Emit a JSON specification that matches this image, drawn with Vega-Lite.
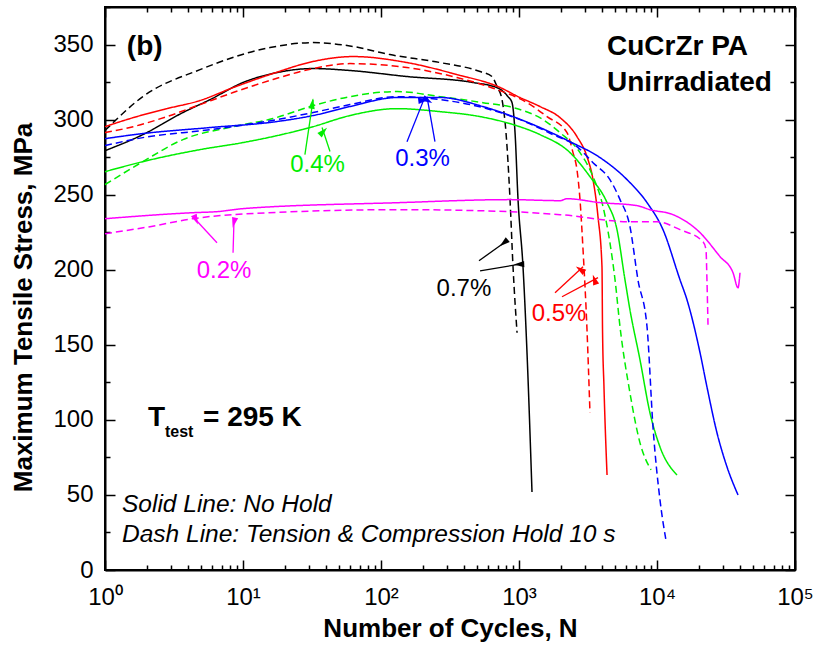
{
  "$schema": "https://vega.github.io/schema/vega-lite/v6.json",
  "width": 690,
  "height": 563,
  "autosize": {"type": "none"},
  "padding": {"left": 105, "top": 7, "right": 22, "bottom": 78},
  "config": {
    "font": "Liberation Sans",
    "view": {"stroke": "black", "strokeWidth": 2},
    "axis": {"grid": false, "domainColor": "black", "domainWidth": 2, "tickColor": "black", "tickWidth": 1.5, "labelColor": "black", "titleColor": "black", "labelFontSize": 24, "titleFontSize": 26, "titleFontWeight": "bold"}
  },
  "datasets": {
    "curves": [
      {"strain":"0.7%","hold":"Hold","N":1,"S":292.7},{"strain":"0.7%","hold":"Hold","N":1.88,"S":315.3},{"strain":"0.7%","hold":"Hold","N":4.88,"S":333.3},{"strain":"0.7%","hold":"Hold","N":15.7,"S":348},{"strain":"0.7%","hold":"Hold","N":32.2,"S":351.3},{"strain":"0.7%","hold":"Hold","N":62.7,"S":348.7},{"strain":"0.7%","hold":"Hold","N":116,"S":343.3},{"strain":"0.7%","hold":"Hold","N":268,"S":338},{"strain":"0.7%","hold":"Hold","N":522,"S":332},{"strain":"0.7%","hold":"Hold","N":637,"S":328.7},{"strain":"0.7%","hold":"Hold","N":693,"S":322},{"strain":"0.7%","hold":"Hold","N":753,"S":313.3},{"strain":"0.7%","hold":"Hold","N":805,"S":291.3},{"strain":"0.7%","hold":"Hold","N":861,"S":246.7},{"strain":"0.7%","hold":"Hold","N":905,"S":202},{"strain":"0.7%","hold":"Hold","N":968,"S":158},
      {"strain":"0.7%","hold":"No Hold","N":1,"S":279.3},{"strain":"0.7%","hold":"No Hold","N":1.88,"S":290},{"strain":"0.7%","hold":"No Hold","N":3.67,"S":304.7},{"strain":"0.7%","hold":"No Hold","N":5.77,"S":313.3},{"strain":"0.7%","hold":"No Hold","N":10,"S":324.7},{"strain":"0.7%","hold":"No Hold","N":17.6,"S":331.3},{"strain":"0.7%","hold":"No Hold","N":32.2,"S":334},{"strain":"0.7%","hold":"No Hold","N":59.6,"S":332.7},{"strain":"0.7%","hold":"No Hold","N":154,"S":328.7},{"strain":"0.7%","hold":"No Hold","N":464,"S":324.7},{"strain":"0.7%","hold":"No Hold","N":693,"S":321.3},{"strain":"0.7%","hold":"No Hold","N":832,"S":315.3},{"strain":"0.7%","hold":"No Hold","N":890,"S":311.3},{"strain":"0.7%","hold":"No Hold","N":936,"S":291.3},{"strain":"0.7%","hold":"No Hold","N":984,"S":246.7},{"strain":"0.7%","hold":"No Hold","N":1069,"S":202},{"strain":"0.7%","hold":"No Hold","N":1143,"S":144.7},{"strain":"0.7%","hold":"No Hold","N":1242,"S":52},
      {"strain":"0.5%","hold":"No Hold","N":1,"S":295.3},{"strain":"0.5%","hold":"No Hold","N":1.6,"S":301.3},{"strain":"0.5%","hold":"No Hold","N":2.81,"S":307.3},{"strain":"0.5%","hold":"No Hold","N":4.88,"S":312.7},{"strain":"0.5%","hold":"No Hold","N":8.47,"S":321.3},{"strain":"0.5%","hold":"No Hold","N":16.5,"S":330.7},{"strain":"0.5%","hold":"No Hold","N":32.2,"S":338.7},{"strain":"0.5%","hold":"No Hold","N":62.7,"S":342},{"strain":"0.5%","hold":"No Hold","N":154,"S":338},{"strain":"0.5%","hold":"No Hold","N":355,"S":330},{"strain":"0.5%","hold":"No Hold","N":705,"S":322},{"strain":"0.5%","hold":"No Hold","N":1016,"S":314.7},{"strain":"0.5%","hold":"No Hold","N":1419,"S":308.7},{"strain":"0.5%","hold":"No Hold","N":1983,"S":301.3},{"strain":"0.5%","hold":"No Hold","N":2630,"S":288.7},{"strain":"0.5%","hold":"No Hold","N":3110,"S":275.3},{"strain":"0.5%","hold":"No Hold","N":3438,"S":260},{"strain":"0.5%","hold":"No Hold","N":3736,"S":235.3},{"strain":"0.5%","hold":"No Hold","N":3993,"S":202},{"strain":"0.5%","hold":"No Hold","N":4030,"S":160},{"strain":"0.5%","hold":"No Hold","N":4128,"S":122},{"strain":"0.5%","hold":"No Hold","N":4345,"S":63.3},
      {"strain":"0.5%","hold":"Hold","N":1,"S":291.3},{"strain":"0.5%","hold":"Hold","N":1.6,"S":295.3},{"strain":"0.5%","hold":"Hold","N":2.81,"S":302},{"strain":"0.5%","hold":"Hold","N":4.88,"S":310},{"strain":"0.5%","hold":"Hold","N":8.47,"S":318},{"strain":"0.5%","hold":"Hold","N":16.5,"S":326.7},{"strain":"0.5%","hold":"Hold","N":32.2,"S":334},{"strain":"0.5%","hold":"Hold","N":59.6,"S":337.3},{"strain":"0.5%","hold":"Hold","N":154,"S":334.7},{"strain":"0.5%","hold":"Hold","N":355,"S":328},{"strain":"0.5%","hold":"Hold","N":693,"S":320},{"strain":"0.5%","hold":"Hold","N":1143,"S":311.3},{"strain":"0.5%","hold":"Hold","N":1596,"S":302},{"strain":"0.5%","hold":"Hold","N":2228,"S":291.3},{"strain":"0.5%","hold":"Hold","N":2462,"S":278},{"strain":"0.5%","hold":"Hold","N":2630,"S":266.7},{"strain":"0.5%","hold":"Hold","N":2767,"S":246.7},{"strain":"0.5%","hold":"Hold","N":2911,"S":213.3},{"strain":"0.5%","hold":"Hold","N":3110,"S":160},{"strain":"0.5%","hold":"Hold","N":3268,"S":104.7},
      {"strain":"0.4%","hold":"No Hold","N":1,"S":265.3},{"strain":"0.4%","hold":"No Hold","N":1.88,"S":272},{"strain":"0.4%","hold":"No Hold","N":4.88,"S":280},{"strain":"0.4%","hold":"No Hold","N":10,"S":284.7},{"strain":"0.4%","hold":"No Hold","N":17.6,"S":289.3},{"strain":"0.4%","hold":"No Hold","N":32.2,"S":295.3},{"strain":"0.4%","hold":"No Hold","N":59.6,"S":302.7},{"strain":"0.4%","hold":"No Hold","N":131,"S":307.3},{"strain":"0.4%","hold":"No Hold","N":268,"S":305.3},{"strain":"0.4%","hold":"No Hold","N":522,"S":302},{"strain":"0.4%","hold":"No Hold","N":905,"S":296.7},{"strain":"0.4%","hold":"No Hold","N":1419,"S":290},{"strain":"0.4%","hold":"No Hold","N":2342,"S":278},{"strain":"0.4%","hold":"No Hold","N":3268,"S":262},{"strain":"0.4%","hold":"No Hold","N":4345,"S":244.7},{"strain":"0.4%","hold":"No Hold","N":5129,"S":226.7},{"strain":"0.4%","hold":"No Hold","N":5861,"S":193.3},{"strain":"0.4%","hold":"No Hold","N":6368,"S":173.3},{"strain":"0.4%","hold":"No Hold","N":7530,"S":140},{"strain":"0.4%","hold":"No Hold","N":8892,"S":104.7},{"strain":"0.4%","hold":"No Hold","N":10510,"S":82},{"strain":"0.4%","hold":"No Hold","N":13960,"S":63.3},
      {"strain":"0.4%","hold":"Hold","N":1,"S":256.7},{"strain":"0.4%","hold":"Hold","N":1.88,"S":272},{"strain":"0.4%","hold":"Hold","N":3.67,"S":286.7},{"strain":"0.4%","hold":"Hold","N":8.47,"S":295.3},{"strain":"0.4%","hold":"Hold","N":16.5,"S":300.7},{"strain":"0.4%","hold":"Hold","N":32.2,"S":309.3},{"strain":"0.4%","hold":"Hold","N":59.6,"S":315.3},{"strain":"0.4%","hold":"Hold","N":131,"S":318.7},{"strain":"0.4%","hold":"Hold","N":268,"S":315.3},{"strain":"0.4%","hold":"Hold","N":548,"S":311.3},{"strain":"0.4%","hold":"Hold","N":905,"S":308},{"strain":"0.4%","hold":"Hold","N":1493,"S":300},{"strain":"0.4%","hold":"Hold","N":1983,"S":291.3},{"strain":"0.4%","hold":"Hold","N":2767,"S":278},{"strain":"0.4%","hold":"Hold","N":3438,"S":262},{"strain":"0.4%","hold":"Hold","N":4064,"S":242},{"strain":"0.4%","hold":"Hold","N":4560,"S":218},{"strain":"0.4%","hold":"Hold","N":4966,"S":193.3},{"strain":"0.4%","hold":"Hold","N":5395,"S":162},{"strain":"0.4%","hold":"Hold","N":6368,"S":118},{"strain":"0.4%","hold":"Hold","N":7530,"S":84.7},{"strain":"0.4%","hold":"Hold","N":9057,"S":66.7},
      {"strain":"0.3%","hold":"No Hold","N":1,"S":287.3},{"strain":"0.3%","hold":"No Hold","N":1.88,"S":290.7},{"strain":"0.3%","hold":"No Hold","N":5.77,"S":294.7},{"strain":"0.3%","hold":"No Hold","N":17.6,"S":298.7},{"strain":"0.3%","hold":"No Hold","N":32.2,"S":302.7},{"strain":"0.3%","hold":"No Hold","N":59.6,"S":308.7},{"strain":"0.3%","hold":"No Hold","N":131,"S":314.7},{"strain":"0.3%","hold":"No Hold","N":268,"S":314.7},{"strain":"0.3%","hold":"No Hold","N":548,"S":308.7},{"strain":"0.3%","hold":"No Hold","N":905,"S":302},{"strain":"0.3%","hold":"No Hold","N":1419,"S":294.7},{"strain":"0.3%","hold":"No Hold","N":2342,"S":285.3},{"strain":"0.3%","hold":"No Hold","N":3864,"S":274.7},{"strain":"0.3%","hold":"No Hold","N":6067,"S":260},{"strain":"0.3%","hold":"No Hold","N":8467,"S":244.7},{"strain":"0.3%","hold":"No Hold","N":11050,"S":226.7},{"strain":"0.3%","hold":"No Hold","N":14680,"S":193.3},{"strain":"0.3%","hold":"No Hold","N":16490,"S":180},{"strain":"0.3%","hold":"No Hold","N":20510,"S":144.7},{"strain":"0.3%","hold":"No Hold","N":23010,"S":122},{"strain":"0.3%","hold":"No Hold","N":27220,"S":91.3},{"strain":"0.3%","hold":"No Hold","N":32150,"S":68.7},{"strain":"0.3%","hold":"No Hold","N":38640,"S":50},
      {"strain":"0.3%","hold":"Hold","N":1,"S":282.7},{"strain":"0.3%","hold":"Hold","N":1.88,"S":288},{"strain":"0.3%","hold":"Hold","N":5.77,"S":293.3},{"strain":"0.3%","hold":"Hold","N":17.6,"S":300},{"strain":"0.3%","hold":"Hold","N":32.2,"S":304.7},{"strain":"0.3%","hold":"Hold","N":59.6,"S":310},{"strain":"0.3%","hold":"Hold","N":131,"S":315.3},{"strain":"0.3%","hold":"Hold","N":268,"S":313.3},{"strain":"0.3%","hold":"Hold","N":548,"S":308},{"strain":"0.3%","hold":"Hold","N":1016,"S":300},{"strain":"0.3%","hold":"Hold","N":1762,"S":290},{"strain":"0.3%","hold":"Hold","N":2630,"S":282},{"strain":"0.3%","hold":"Hold","N":3438,"S":271.3},{"strain":"0.3%","hold":"Hold","N":4560,"S":260},{"strain":"0.3%","hold":"Hold","N":5395,"S":246.7},{"strain":"0.3%","hold":"Hold","N":6368,"S":228.7},{"strain":"0.3%","hold":"Hold","N":7278,"S":193.3},{"strain":"0.3%","hold":"Hold","N":8467,"S":162},{"strain":"0.3%","hold":"Hold","N":9354,"S":95.3},{"strain":"0.3%","hold":"Hold","N":10510,"S":46.7},{"strain":"0.3%","hold":"Hold","N":11610,"S":20},
      {"strain":"0.2%","hold":"No Hold","N":1,"S":234},{"strain":"0.2%","hold":"No Hold","N":4.34,"S":238},{"strain":"0.2%","hold":"No Hold","N":6.48,"S":238.7},{"strain":"0.2%","hold":"No Hold","N":10,"S":240.7},{"strain":"0.2%","hold":"No Hold","N":137,"S":244.7},{"strain":"0.2%","hold":"No Hold","N":861,"S":246.7},{"strain":"0.2%","hold":"No Hold","N":1983,"S":246},{"strain":"0.2%","hold":"No Hold","N":2228,"S":247.3},{"strain":"0.2%","hold":"No Hold","N":3864,"S":244.7},{"strain":"0.2%","hold":"No Hold","N":7161,"S":242.7},{"strain":"0.2%","hold":"No Hold","N":8892,"S":240},{"strain":"0.2%","hold":"No Hold","N":13060,"S":236.7},{"strain":"0.2%","hold":"No Hold","N":20510,"S":224.7},{"strain":"0.2%","hold":"No Hold","N":28640,"S":208.7},{"strain":"0.2%","hold":"No Hold","N":35560,"S":198},{"strain":"0.2%","hold":"No Hold","N":38640,"S":188},{"strain":"0.2%","hold":"No Hold","N":39940,"S":198},
      {"strain":"0.2%","hold":"Hold","N":1,"S":224},{"strain":"0.2%","hold":"Hold","N":2.12,"S":228.7},{"strain":"0.2%","hold":"Hold","N":4.34,"S":234},{"strain":"0.2%","hold":"Hold","N":8.47,"S":236.7},{"strain":"0.2%","hold":"Hold","N":137,"S":240},{"strain":"0.2%","hold":"Hold","N":861,"S":238.7},{"strain":"0.2%","hold":"Hold","N":1983,"S":236.7},{"strain":"0.2%","hold":"Hold","N":6368,"S":232},{"strain":"0.2%","hold":"Hold","N":10000,"S":232},{"strain":"0.2%","hold":"Hold","N":14680,"S":226.7},{"strain":"0.2%","hold":"Hold","N":21530,"S":218.7},{"strain":"0.2%","hold":"Hold","N":22650,"S":213.3},{"strain":"0.2%","hold":"Hold","N":23010,"S":193.3},{"strain":"0.2%","hold":"Hold","N":23420,"S":163.3}
    ],
    "arrows": [
      {"id":"g1","strain":"0.4%","tx":28.1,"ty":276.7,"px":32.2,"py":313.3,"hx":31.8,"hy":310.7},
      {"id":"g2","strain":"0.4%","tx":42.7,"ty":278.7,"px":37.4,"py":294.7,"hx":38.2,"hy":292.1},
      {"id":"b1","strain":"0.3%","tx":154.3,"ty":285.3,"px":208.4,"py":315.3,"hx":203.2,"hy":312.9},
      {"id":"b2","strain":"0.3%","tx":246,"ty":285.3,"px":215.4,"py":315.3,"hx":217.9,"hy":312.7},
      {"id":"m1","strain":"0.2%","tx":6.48,"ty":218,"px":4.34,"py":235.3,"hx":4.56,"hy":233.3},
      {"id":"m2","strain":"0.2%","tx":8.47,"ty":211.3,"px":8.61,"py":233.7,"hx":8.59,"hy":231.3},
      {"id":"k1","strain":"0.7%","tx":513,"ty":206,"px":818,"py":219.3,"hx":775,"hy":217.8},
      {"id":"k2","strain":"0.7%","tx":522,"ty":199.3,"px":1069,"py":204,"hx":1000,"hy":203.6},
      {"id":"r1","strain":"0.5%","tx":1824,"ty":184.7,"px":2911,"py":202,"hx":2774,"hy":200.2},
      {"id":"r2","strain":"0.5%","tx":2050,"ty":182,"px":3736,"py":194.7,"hx":3524,"hy":193.4}
    ],
    "labels": [
      {"strain":"0.4%","N":34.7,"S":265.3,"label":"0.4%"},
      {"strain":"0.3%","N":200,"S":268.9,"label":"0.3%"},
      {"strain":"0.2%","N":7.28,"S":194.4,"label":"0.2%"},
      {"strain":"0.7%","N":399,"S":182.2,"label":"0.7%"},
      {"strain":"0.5%","N":1950,"S":165.6,"label":"0.5%"}
    ],
    "boldText": [
      {"N":1.44,"S":343,"t":"(b)"},
      {"N":4345,"S":343.3,"t":"CuCrZr PA"},
      {"N":4345,"S":318.9,"t":"Unirradiated"},
      {"N":2.05,"S":96,"t":"T"},
      {"N":5.13,"S":96,"t":"= 295 K"}
    ],
    "subText": [
      {"N":2.72,"S":88.7,"t":"test"}
    ],
    "italicText": [
      {"N":1.328,"S":38.7,"t":"Solid Line: No Hold"},
      {"N":1.328,"S":18.7,"t":"Dash Line: Tension & Compression Hold 10 s"}
    ]
  },
  "layer": [
    {
      "data": {"name": "curves"},
      "mark": {"type": "line", "strokeWidth": 1.5, "interpolate": "monotone"},
      "encoding": {
        "x": {"field": "N", "type": "quantitative",
          "scale": {"type": "log", "domain": [1, 100000], "nice": false},
          "axis": {"orient": "bottom",
            "values": [1,10,100,1000,10000,100000],
            "labelExpr": "'10' + ['⁰','¹','²','³','⁴','⁵'][round(log(datum.value)/LN10)]",
            "labelFlush": false, "labelOverlap": false, "labelPadding": 25,
            "tickSize": -10,
            "title": "Number of Cycles, N", "titlePadding": 6}},
        "y": {"field": "S", "type": "quantitative",
          "scale": {"domain": [0, 375], "nice": false},
          "axis": {"orient": "left",
            "values": [0,50,100,150,200,250,300,350],
            "labelOverlap": false, "labelPadding": 22,
            "tickSize": -10,
            "title": "Maximum Tensile Stress, MPa", "titlePadding": 16, "titleY": 300}},
        "color": {"field": "strain", "type": "nominal",
          "scale": {"domain": ["0.2%","0.3%","0.4%","0.5%","0.7%"], "range": ["#ff00ff","#0000ff","#00ee00","#ff0000","#000000"]},
          "legend": null},
        "strokeDash": {"field": "hold", "type": "nominal",
          "scale": {"domain": ["No Hold","Hold"], "range": [[1,0],[7,4]]},
          "legend": null},
        "order": {"value": null}
      }
    },
    {
      "data": {"name": "arrows"},
      "mark": {"type": "rule", "strokeWidth": 1.3},
      "encoding": {
        "x": {"field": "tx", "type": "quantitative",
          "axis": {"orient": "top", "values": [1,10,100,1000,10000,100000], "labels": false, "title": null, "tickSize": -10}},
        "y": {"field": "ty", "type": "quantitative",
          "axis": {"orient": "right", "values": [0,50,100,150,200,250,300,350], "labels": false, "title": null, "tickSize": -10}},
        "x2": {"field": "px"},
        "y2": {"field": "py"},
        "color": {"field": "strain", "type": "nominal", "legend": null}
      }
    },
    {
      "data": {"name": "arrows"},
      "mark": {"type": "point", "shape": "M0,-1L0.6,1L-0.6,1Z", "filled": true, "size": 110, "opacity": 1},
      "encoding": {
        "x": {"field": "hx", "type": "quantitative",
          "axis": {"orient": "bottom", "values": [2,3,4,5,6,7,8,9,20,30,40,50,60,70,80,90,200,300,400,500,600,700,800,900,2000,3000,4000,5000,6000,7000,8000,9000,20000,30000,40000,50000,60000,70000,80000,90000], "labels": false, "title": null, "tickSize": -5, "domain": false}},
        "y": {"field": "hy", "type": "quantitative",
          "axis": {"orient": "left", "values": [25,75,125,175,225,275,325,375], "labels": false, "title": null, "tickSize": -5, "domain": false}},
        "color": {"field": "strain", "type": "nominal", "legend": null},
        "angle": {"field": "id", "type": "nominal",
          "scale": {"domain": ["g1","g2","b1","b2","m1","m2","k1","k2","r1","r2"], "range": [8.3,341.6,21.8,350,317.3,1.7,54.5,80.8,47.1,62.2]},
          "legend": null}
      }
    },
    {
      "data": {"name": "labels"},
      "mark": {"type": "text", "fontSize": 24, "align": "center", "baseline": "alphabetic"},
      "encoding": {
        "x": {"field": "N", "type": "quantitative",
          "axis": {"orient": "top", "values": [2,3,4,5,6,7,8,9,20,30,40,50,60,70,80,90,200,300,400,500,600,700,800,900,2000,3000,4000,5000,6000,7000,8000,9000,20000,30000,40000,50000,60000,70000,80000,90000], "labels": false, "title": null, "tickSize": -5, "domain": false}},
        "y": {"field": "S", "type": "quantitative",
          "axis": {"orient": "right", "values": [25,75,125,175,225,275,325,375], "labels": false, "title": null, "tickSize": -5, "domain": false}},
        "text": {"field": "label"},
        "color": {"field": "strain", "type": "nominal", "legend": null}
      }
    },
    {
      "data": {"name": "boldText"},
      "mark": {"type": "text", "fontSize": 28, "fontWeight": "bold", "align": "left", "baseline": "alphabetic", "color": "black"},
      "encoding": {
        "x": {"field": "N", "type": "quantitative", "axis": null},
        "y": {"field": "S", "type": "quantitative", "axis": null},
        "text": {"field": "t"}
      }
    },
    {
      "data": {"name": "subText"},
      "mark": {"type": "text", "fontSize": 16, "fontWeight": "bold", "align": "left", "baseline": "alphabetic", "color": "black"},
      "encoding": {
        "x": {"field": "N", "type": "quantitative", "axis": null},
        "y": {"field": "S", "type": "quantitative", "axis": null},
        "text": {"field": "t"}
      }
    },
    {
      "data": {"name": "italicText"},
      "mark": {"type": "text", "fontSize": 24.5, "fontStyle": "italic", "align": "left", "baseline": "alphabetic", "color": "black"},
      "encoding": {
        "x": {"field": "N", "type": "quantitative", "axis": null},
        "y": {"field": "S", "type": "quantitative", "axis": null},
        "text": {"field": "t"}
      }
    }
  ],
  "resolve": {"axis": {"x": "independent", "y": "independent"}}
}
